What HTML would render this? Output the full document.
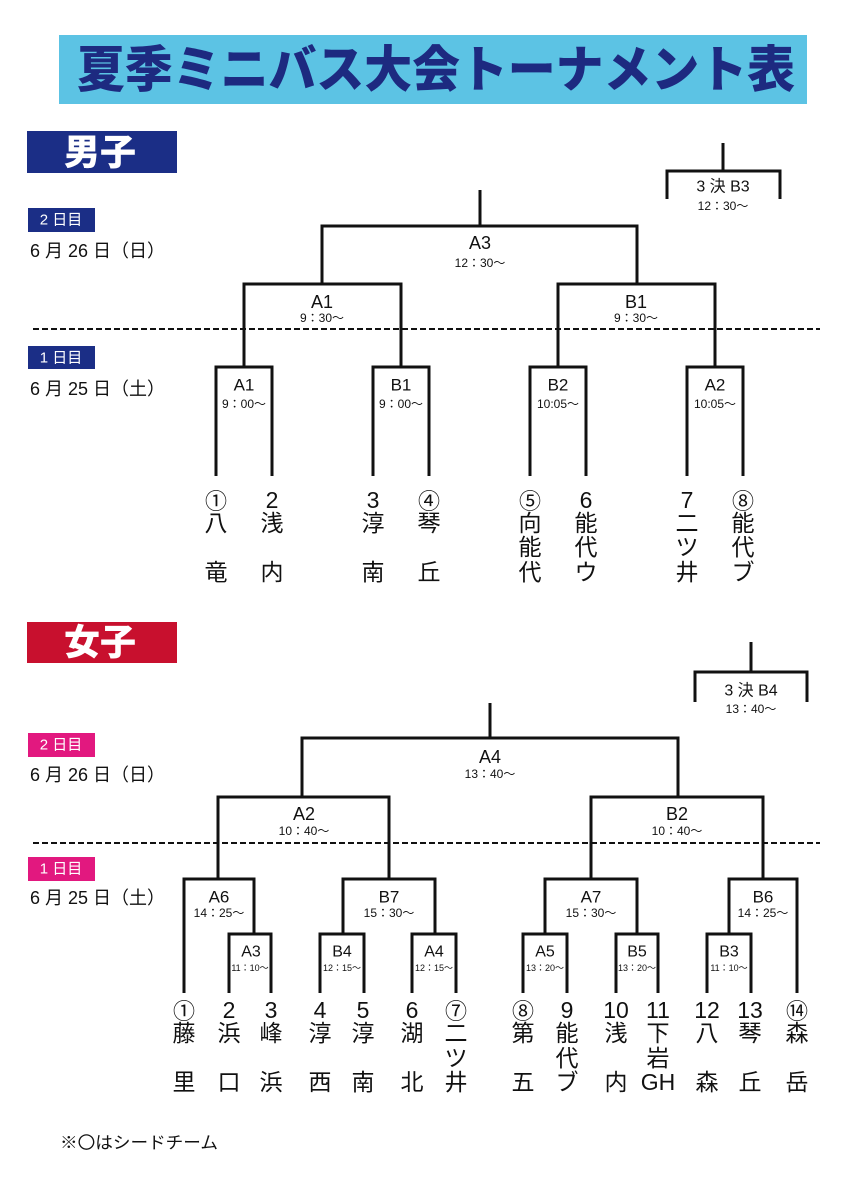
<!DOCTYPE html>
<html lang="ja">
<head>
<meta charset="utf-8">
<title>夏季ミニバス大会トーナメント表</title>
<style>
html,body{margin:0;padding:0;background:#fff;}
svg{display:block;}
</style>
</head>
<body>
<svg width="842" height="1191" viewBox="0 0 842 1191" xmlns="http://www.w3.org/2000/svg" font-family="'Liberation Sans','Noto Sans CJK JP',sans-serif">
<rect x="0" y="0" width="842" height="1191" fill="#ffffff"/>

<!-- Title -->
<rect x="59" y="35" width="748" height="69" fill="#5cc3e4"/>
<text x="77" y="70" dominant-baseline="central" font-family="'Liberation Sans','Noto Sans CJK JP',sans-serif" font-size="50" font-weight="900" fill="#1d2a80" textLength="718" lengthAdjust="spacingAndGlyphs">夏季ミニバス大会トーナメント表</text>

<!-- ===== MALE ===== -->
<rect x="27" y="131" width="150" height="42" fill="#1b2e86"/>
<text x="100" y="152" dominant-baseline="central" text-anchor="middle" font-size="36" font-weight="900" fill="#ffffff">男子</text>

<rect x="28" y="208" width="67" height="24" fill="#1b2e86"/>
<text x="61" y="220" dominant-baseline="central" text-anchor="middle" font-size="15" fill="#ffffff">2 日目</text>
<text x="30" y="251" dominant-baseline="central" font-size="18" fill="#111">6 月 26 日（日）</text>

<rect x="28" y="346" width="67" height="23" fill="#1b2e86"/>
<text x="61" y="358" dominant-baseline="central" text-anchor="middle" font-size="15" fill="#ffffff">1 日目</text>
<text x="30" y="389" dominant-baseline="central" font-size="18" fill="#111">6 月 25 日（土）</text>

<line x1="33" y1="329" x2="820" y2="329" stroke="#111" stroke-width="2" stroke-dasharray="6 3"/>

<g fill="none" stroke="#111" stroke-width="3" stroke-linejoin="miter">
  <!-- 3rd place -->
  <path d="M723,143 V171"/>
  <path d="M667,199 V171 H780 V199"/>
  <!-- final -->
  <path d="M480,190 V226"/>
  <path d="M322,284 V226 H637 V284"/>
  <!-- semis -->
  <path d="M244,367 V284 H401 V367"/>
  <path d="M558,367 V284 H715 V367"/>
  <!-- first round -->
  <path d="M216,476 V367 H272 V476"/>
  <path d="M373,476 V367 H429 V476"/>
  <path d="M530,476 V367 H586 V476"/>
  <path d="M687,476 V367 H743 V476"/>
</g>

<g fill="#111" text-anchor="middle" dominant-baseline="central">
  <text x="723" y="187" font-size="16">3 決 B3</text>
  <text x="723" y="206" font-size="12">12：30～</text>
  <text x="480" y="243" font-size="18">A3</text>
  <text x="480" y="263" font-size="12">12：30～</text>
  <text x="322" y="302" font-size="18">A1</text>
  <text x="322" y="318" font-size="12">9：30～</text>
  <text x="636" y="302" font-size="18">B1</text>
  <text x="636" y="318" font-size="12">9：30～</text>
  <text x="244" y="385" font-size="17">A1</text>
  <text x="244" y="404" font-size="12">9：00～</text>
  <text x="401" y="385" font-size="17">B1</text>
  <text x="401" y="404" font-size="12">9：00～</text>
  <text x="558" y="385" font-size="17">B2</text>
  <text x="558" y="404" font-size="12">10:05～</text>
  <text x="715" y="385" font-size="17">A2</text>
  <text x="715" y="404" font-size="12">10:05～</text>
</g>

<!-- male teams -->
<g fill="#111" text-anchor="middle" dominant-baseline="central" font-size="23">
  <text x="216" y="500" font-family="'Noto Sans CJK JP',sans-serif" font-size="22">①</text>
  <text x="216" y="523">八</text><text x="216" y="572">竜</text>
  <text x="272" y="500">2</text>
  <text x="272" y="523">浅</text><text x="272" y="572">内</text>
  <text x="373" y="500">3</text>
  <text x="373" y="523">淳</text><text x="373" y="572">南</text>
  <text x="429" y="500" font-family="'Noto Sans CJK JP',sans-serif" font-size="22">④</text>
  <text x="429" y="523">琴</text><text x="429" y="572">丘</text>
  <text x="530" y="500" font-family="'Noto Sans CJK JP',sans-serif" font-size="22">⑤</text>
  <text x="530" y="523">向</text><text x="530" y="547">能</text><text x="530" y="572">代</text>
  <text x="586" y="500">6</text>
  <text x="586" y="523">能</text><text x="586" y="547">代</text><text x="586" y="572">ウ</text>
  <text x="687" y="500">7</text>
  <text x="687" y="523">二</text><text x="687" y="547">ツ</text><text x="687" y="572">井</text>
  <text x="743" y="500" font-family="'Noto Sans CJK JP',sans-serif" font-size="22">⑧</text>
  <text x="743" y="523">能</text><text x="743" y="547">代</text><text x="743" y="572">ブ</text>
</g>

<!-- ===== FEMALE ===== -->
<rect x="27" y="622" width="150" height="41" fill="#c8102e"/>
<text x="100" y="642" dominant-baseline="central" text-anchor="middle" font-size="36" font-weight="900" fill="#ffffff">女子</text>

<rect x="28" y="733" width="67" height="24" fill="#e2187f"/>
<text x="61" y="745" dominant-baseline="central" text-anchor="middle" font-size="15" fill="#ffffff">2 日目</text>
<text x="30" y="775" dominant-baseline="central" font-size="18" fill="#111">6 月 26 日（日）</text>

<rect x="28" y="857" width="67" height="24" fill="#e2187f"/>
<text x="61" y="869" dominant-baseline="central" text-anchor="middle" font-size="15" fill="#ffffff">1 日目</text>
<text x="30" y="898" dominant-baseline="central" font-size="18" fill="#111">6 月 25 日（土）</text>

<line x1="33" y1="843" x2="820" y2="843" stroke="#111" stroke-width="2" stroke-dasharray="6 3"/>

<g fill="none" stroke="#111" stroke-width="3" stroke-linejoin="miter">
  <!-- 3rd place -->
  <path d="M751,642 V672"/>
  <path d="M695,702 V672 H807 V702"/>
  <!-- final -->
  <path d="M490,703 V738"/>
  <path d="M302,797 V738 H678 V797"/>
  <!-- semis -->
  <path d="M218,879 V797 H389 V879"/>
  <path d="M591,879 V797 H763 V879"/>
  <!-- quarter -->
  <path d="M184,993 V879 H254 V934"/>
  <path d="M343,934 V879 H435 V934"/>
  <path d="M545,934 V879 H637 V934"/>
  <path d="M729,934 V879 H797 V993"/>
  <!-- first -->
  <path d="M229,993 V934 H271 V993"/>
  <path d="M320,993 V934 H364 V993"/>
  <path d="M412,993 V934 H456 V993"/>
  <path d="M523,993 V934 H567 V993"/>
  <path d="M616,993 V934 H658 V993"/>
  <path d="M707,993 V934 H751 V993"/>
</g>

<g fill="#111" text-anchor="middle" dominant-baseline="central">
  <text x="751" y="691" font-size="16">3 決 B4</text>
  <text x="751" y="709" font-size="12">13：40～</text>
  <text x="490" y="757" font-size="18">A4</text>
  <text x="490" y="774" font-size="12">13：40～</text>
  <text x="304" y="814" font-size="18">A2</text>
  <text x="304" y="831" font-size="12">10：40～</text>
  <text x="677" y="814" font-size="18">B2</text>
  <text x="677" y="831" font-size="12">10：40～</text>

  <text x="219" y="897" font-size="17">A6</text>
  <text x="219" y="913" font-size="12">14：25～</text>
  <text x="389" y="897" font-size="17">B7</text>
  <text x="389" y="913" font-size="12">15：30～</text>
  <text x="591" y="897" font-size="17">A7</text>
  <text x="591" y="913" font-size="12">15：30～</text>
  <text x="763" y="897" font-size="17">B6</text>
  <text x="763" y="913" font-size="12">14：25～</text>

  <text x="251" y="952" font-size="16">A3</text>
  <text x="250" y="968" font-size="9">11：10～</text>
  <text x="342" y="952" font-size="16">B4</text>
  <text x="342" y="968" font-size="9">12：15～</text>
  <text x="434" y="952" font-size="16">A4</text>
  <text x="434" y="968" font-size="9">12：15～</text>
  <text x="545" y="952" font-size="16">A5</text>
  <text x="545" y="968" font-size="9">13：20～</text>
  <text x="637" y="952" font-size="16">B5</text>
  <text x="637" y="968" font-size="9">13：20～</text>
  <text x="729" y="952" font-size="16">B3</text>
  <text x="729" y="968" font-size="9">11：10～</text>
</g>

<!-- female teams -->
<g fill="#111" text-anchor="middle" dominant-baseline="central" font-size="23">
  <text x="184" y="1010" font-family="'Noto Sans CJK JP',sans-serif" font-size="22">①</text>
  <text x="184" y="1033">藤</text><text x="184" y="1082">里</text>
  <text x="229" y="1010">2</text>
  <text x="229" y="1033">浜</text><text x="229" y="1082">口</text>
  <text x="271" y="1010">3</text>
  <text x="271" y="1033">峰</text><text x="271" y="1082">浜</text>
  <text x="320" y="1010">4</text>
  <text x="320" y="1033">淳</text><text x="320" y="1082">西</text>
  <text x="363" y="1010">5</text>
  <text x="363" y="1033">淳</text><text x="363" y="1082">南</text>
  <text x="412" y="1010">6</text>
  <text x="412" y="1033">湖</text><text x="412" y="1082">北</text>
  <text x="456" y="1010" font-family="'Noto Sans CJK JP',sans-serif" font-size="22">⑦</text>
  <text x="456" y="1033">二</text><text x="456" y="1058">ツ</text><text x="456" y="1082">井</text>
  <text x="523" y="1010" font-family="'Noto Sans CJK JP',sans-serif" font-size="22">⑧</text>
  <text x="523" y="1033">第</text><text x="523" y="1082">五</text>
  <text x="567" y="1010">9</text>
  <text x="567" y="1033">能</text><text x="567" y="1058">代</text><text x="567" y="1082">ブ</text>
  <text x="616" y="1010">10</text>
  <text x="616" y="1033">浅</text><text x="616" y="1082">内</text>
  <text x="658" y="1010">11</text>
  <text x="658" y="1033">下</text><text x="658" y="1058">岩</text><text x="658" y="1082">GH</text>
  <text x="707" y="1010">12</text>
  <text x="707" y="1033">八</text><text x="707" y="1082">森</text>
  <text x="750" y="1010">13</text>
  <text x="750" y="1033">琴</text><text x="750" y="1082">丘</text>
  <text x="797" y="1010" font-family="'Noto Sans CJK JP',sans-serif" font-size="22">⑭</text>
  <text x="797" y="1033">森</text><text x="797" y="1082">岳</text>
</g>

<!-- footer -->
<text x="60" y="1143" dominant-baseline="central" font-size="17" fill="#111" textLength="158" lengthAdjust="spacingAndGlyphs">※〇はシードチーム</text>
</svg>
</body>
</html>
